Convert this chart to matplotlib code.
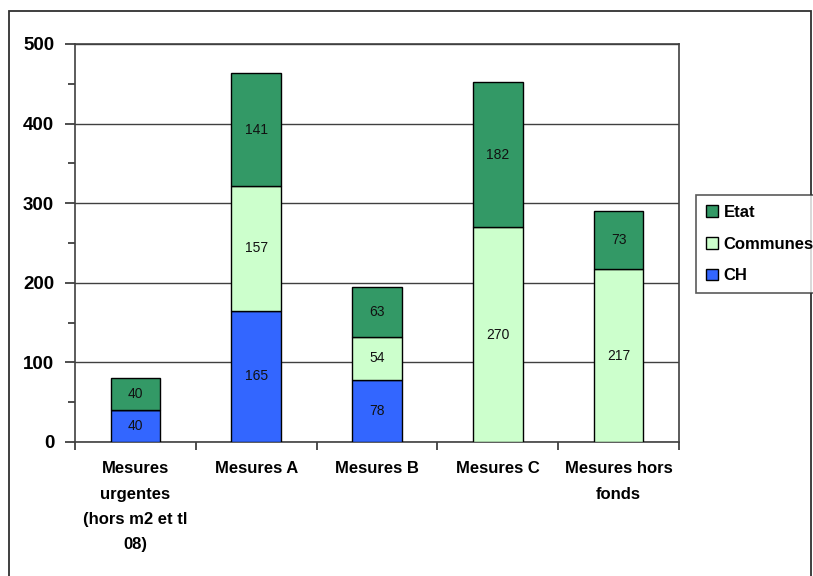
import matplotlib
matplotlib.use("Agg")
import matplotlib.pyplot as plt
from matplotlib.patches import Rectangle, Patch
import numpy as np

plt.rcParams['font.family'] = ['Liberation Sans', 'DejaVu Sans']

categories = ["Mesures\nurgentes\n(hors m2 et tl\n08)", "Mesures A", "Mesures B",
              "Mesures C", "Mesures hors\nfonds"]
ch = [40, 165, 78, 0, 0]
communes = [0, 157, 54, 270, 217]
etat = [40, 141, 63, 182, 73]
yticks = [0, 100, 200, 300, 400, 500]

c_ch = "#3366FF"
c_com = "#CCFFCC"
c_etat = "#339966"

W, H = 813, 576
fig = plt.figure(figsize=(W / 100, H / 100), dpi=100)
fig.patch.set_facecolor("white")

# outer frame
fig.add_artist(Rectangle((9 / W, -0.01), (811 - 9) / W, 1.01 - 11 / H,
                         transform=fig.transFigure, fill=False,
                         edgecolor="#303030", linewidth=1.3))

ax = fig.add_axes([75 / W, (H - 442) / H, (679 - 75) / W, (442 - 44) / H])
x = np.arange(len(categories))
width = 0.41
series = [(ch, c_ch, "CH"), (communes, c_com, "Communes"), (etat, c_etat, "Etat")]
bottom = np.zeros(len(categories))
for vals, col, name in series:
    vals = np.array(vals, dtype=float)
    ax.bar(x, vals, width, bottom=bottom, color=col, edgecolor="black",
           linewidth=1.0, zorder=3, label=name)
    for xi, v, b in zip(x, vals, bottom):
        if v > 0:
            ax.text(xi, b + v / 2, f"{int(v)}", ha="center", va="center",
                    fontsize=10, color="#111111", zorder=4)
    bottom += vals

ax.set_xlim(-0.5, len(categories) - 0.5)
ax.set_ylim(0, 500)
ax.set_yticks(yticks)
ax.set_yticks(np.arange(50, 500, 100), minor=True)
ax.set_yticklabels([str(t) for t in yticks], fontsize=13.5, fontweight="bold")
ax.yaxis.grid(True, which="major", color="#404040", linewidth=1.0, zorder=1)
ax.set_axisbelow(True)

ax.set_xticks(np.arange(-0.5, len(categories), 1.0))
ax.set_xticklabels([])
ax.set_xticks(x, minor=True)
ax.set_xticklabels(categories, minor=True, fontsize=12, fontweight="bold",
                   linespacing=1.85, va="top")
ax.tick_params(axis="x", which="major", length=6, width=1.2, color="#303030", direction="out")
ax.tick_params(axis="x", which="minor", length=0, pad=14)
ax.tick_params(axis="y", which="major", length=7, width=1.2, color="#303030", pad=8)
ax.tick_params(axis="y", which="minor", length=5, width=1.2, color="#303030")

for s in ax.spines.values():
    s.set_color("#404040")
    s.set_linewidth(1.2)

handles = [Patch(facecolor=c_etat, edgecolor="black", label="Etat"),
           Patch(facecolor=c_com, edgecolor="black", label="Communes"),
           Patch(facecolor=c_ch, edgecolor="black", label="CH")]
leg = fig.legend(handles=handles, loc="upper left",
                 bbox_to_anchor=(696 / W, (H - 195) / H),
                 frameon=True, fancybox=False, edgecolor="#303030",
                 prop={"size": 12, "weight": "bold"},
                 handlelength=0.7, handleheight=0.7, handletextpad=0.35,
                 labelspacing=1.0, borderpad=0.6, borderaxespad=0)
leg.get_frame().set_linewidth(1.2)

fig.savefig("out.png", dpi=100)
